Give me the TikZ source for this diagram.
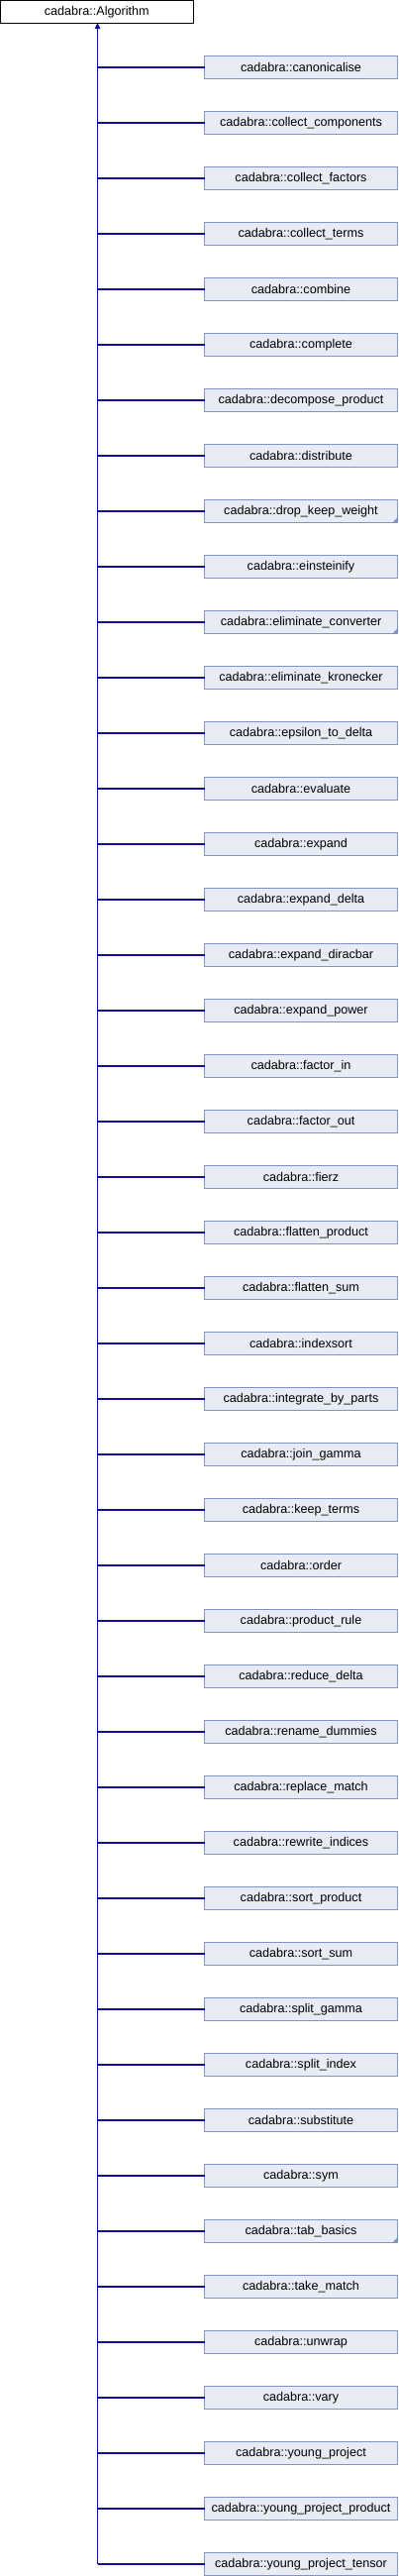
\documentclass[tikz,border=0pt]{standalone}
\usepackage{fontspec}
\setmainfont{Liberation Sans}
\usetikzlibrary{arrows.meta}
\definecolor{boxfill}{HTML}{E8ECF5}
\definecolor{boxline}{HTML}{7D93CB}
\definecolor{edgeblue}{HTML}{10109E}
\begin{document}
\begin{tikzpicture}[x=1pt,y=-1pt,
  lbl/.style={font=\fontsize{12.6}{14}\selectfont},
  basebox/.style={lbl,draw=black,fill=white,line width=1pt,outer sep=0pt,
    minimum width=194.5pt,minimum height=22.5pt,inner sep=0pt},
  derived/.style={lbl,draw=boxline,fill=boxfill,line width=1pt,outer sep=0pt,
    minimum width=195pt,minimum height=22.5pt,inner sep=0pt},
  link/.style={draw=edgeblue,line width=1.1pt}]
\useasboundingbox (0,0) rectangle (402,2600);
\node[basebox] (base) at (97.75,11.75) {cadabra::Algorithm};
\coordinate (trunk) at (98.5,23);
\foreach \n [count=\i from 0] in {canonicalise,collect\_components,collect\_factors,collect\_terms,combine,complete,decompose\_product,distribute,drop\_keep\_weight,einsteinify,eliminate\_converter,eliminate\_kronecker,epsilon\_to\_delta,evaluate,expand,expand\_delta,expand\_diracbar,expand\_power,factor\_in,factor\_out,fierz,flatten\_product,flatten\_sum,indexsort,integrate\_by\_parts,join\_gamma,keep\_terms,order,product\_rule,reduce\_delta,rename\_dummies,replace\_match,rewrite\_indices,sort\_product,sort\_sum,split\_gamma,split\_index,substitute,sym,tab\_basics,take\_match,unwrap,vary,young\_project,young\_project\_product,young\_project\_tensor}{
  \node[derived] (c\i) at (304,68+56*\i) {cadabra::\n};
  \draw[link] (c\i.west) -- (c\i.west -| trunk);
}
\draw[link,-{Triangle[width=5.5pt,length=6pt]}] (c45.west -| trunk) -- (trunk);
\foreach \k in {8,10,39}{
  \fill[boxline] (c\k.south east) -- ++(-5,0) -- ++(5,-5) -- cycle;
}
\end{tikzpicture}
\end{document}
